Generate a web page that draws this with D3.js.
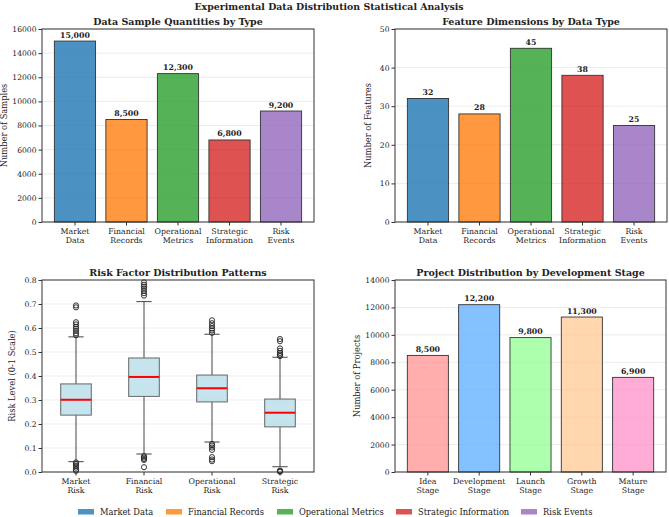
<!DOCTYPE html>
<html>
<head>
<meta charset="utf-8">
<script src="https://cdn.jsdelivr.net/npm/d3@7"></script>
<style>
  body { margin: 0; background: #fff; }
  text { font-family: "DejaVu Serif", serif; fill: #222; }
</style>
</head>
<body>
<script>
// ---------------------- data ----------------------
var dataTypes = ["Market Data", "Financial Records", "Operational Metrics", "Strategic Information", "Risk Events"];
var typeColors = ["#1f77b4", "#ff7f0e", "#2ca02c", "#d62728", "#9467bd"];
var sampleCounts = [15000, 8500, 12300, 6800, 9200];
var featureCounts = [32, 28, 45, 38, 25];

var riskNames = ["Market Risk", "Financial Risk", "Operational Risk", "Strategic Risk"];
var riskQ1 = [0.237, 0.315, 0.292, 0.188];
var riskMedian = [0.301, 0.396, 0.349, 0.247];
var riskQ3 = [0.367, 0.475, 0.404, 0.304];
var riskLow = [0.043, 0.075, 0.125, 0.022];
var riskHigh = [0.563, 0.710, 0.574, 0.478];
var riskOutliers = [
  [0.694, 0.686, 0.624, 0.615, 0.605, 0.597, 0.588, 0.578, 0.570, 0.040, 0.033, 0.026, 0.018, 0.010, 0.005],
  [0.790, 0.780, 0.772, 0.764, 0.755, 0.745, 0.735, 0.066, 0.060, 0.055, 0.050, 0.020],
  [0.632, 0.620, 0.608, 0.598, 0.590, 0.580, 0.117, 0.110, 0.102, 0.092, 0.062, 0.052, 0.045],
  [0.554, 0.545, 0.515, 0.505, 0.496, 0.489, 0.483, 0.006, 0.003, 0.001]
];

var stages = ["Idea Stage", "Development Stage", "Launch Stage", "Growth Stage", "Mature Stage"];
var stageColors = ["#ff9999", "#66b3ff", "#99ff99", "#ffcc99", "#ff99cc"];
var stageCounts = [8500, 12200, 9800, 11300, 6900];

// ---------------------- figure ----------------------
var svg = d3.select("body")
     .append("svg")
     .attr("width", 669)
     .attr("height", 517);

svg.append("text")
     .text("Experimental Data Distribution Statistical Analysis")
     .attr("x", 329)
     .attr("y", 10)
     .attr("text-anchor", "middle")
     .style("font-size", "9.4px")
     .style("font-weight", "bold");

var fmt = d3.format(",");

// draw one panel frame: grid, titles
function panel(box, yScale, yTicks, title, ylabel) {
  var g = svg.append("g");
  g.selectAll(".grid").data(yTicks).enter()
    .append("line")
    .attr("x1", box.x0).attr("x2", box.x1)
    .attr("y1", function(d) { return yScale(d); })
    .attr("y2", function(d) { return yScale(d); })
    .attr("stroke", "#b0b0b0").attr("stroke-opacity", 0.3).attr("stroke-width", 0.8);
  g.append("text").text(title)
    .attr("x", (box.x0 + box.x1) / 2).attr("y", box.y0 - 4)
    .attr("text-anchor", "middle")
    .style("font-size", "9.5px").style("font-weight", "bold");
  g.append("text").text(ylabel)
    .attr("transform", "translate(" + (box.x0 - box.labelOff) + "," + ((box.y0 + box.y1) / 2) + ") rotate(-90)")
    .attr("text-anchor", "middle")
    .style("font-size", "8.3px");
  return g;
}

// axes, ticks and spines
function frame(box, yScale, yTicks, yFormat, xPos, xLabels) {
  var g = svg.append("g");
  var ax = g.append("g").attr("transform", "translate(" + box.x0 + ",0)")
    .call(d3.axisLeft(yScale).tickValues(yTicks).tickFormat(yFormat).tickSize(3.5).tickPadding(2));
  ax.select(".domain").remove();
  ax.selectAll("line").attr("stroke", "#333");
  ax.selectAll("text").style("font-size", "7.6px").style("font-family", "DejaVu Serif").attr("fill", "#222");
  var xt = g.selectAll(".xt").data(xLabels).enter().append("g")
    .attr("transform", function(d, i) { return "translate(" + xPos(i) + "," + box.y1 + ")"; });
  xt.append("line").attr("y2", 3.5).attr("stroke", "#333");
  xt.each(function(d) {
    var words = d.split(" ");
    var t = d3.select(this).append("text").attr("text-anchor", "middle").style("font-size", "7.8px");
    words.forEach(function(w, k) {
      t.append("tspan").attr("x", 0).attr("y", 12 + k * 9).text(w);
    });
  });
  g.append("rect")
    .attr("x", box.x0).attr("y", box.y0)
    .attr("width", box.x1 - box.x0).attr("height", box.y1 - box.y0)
    .attr("fill", "none").attr("stroke", "#333").attr("stroke-width", 1);
}

function barPanel(box, values, colors, labels, yMax, yStep, title, ylabel, valFmt) {
  var x = d3.scaleLinear().domain([-0.64, 4.64]).range([box.x0, box.x1]);
  var y = d3.scaleLinear().domain([0, yMax]).range([box.y1, box.y0]);
  var ticks = d3.range(0, yMax + yStep / 2, yStep);
  var g = panel(box, y, ticks, title, ylabel);
  g.selectAll(".bar").data(values).enter()
    .append("rect")
    .attr("x", function(d, i) { return x(i - 0.4); })
    .attr("width", x(0.4) - x(-0.4))
    .attr("y", function(d) { return y(d); })
    .attr("height", function(d) { return y(0) - y(d); })
    .attr("fill", function(d, i) { return colors[i]; })
    .attr("stroke", "black").attr("stroke-width", 0.9)
    .attr("opacity", 0.8);
  g.selectAll(".val").data(values).enter()
    .append("text")
    .text(valFmt)
    .attr("x", function(d, i) { return x(i); })
    .attr("y", function(d) { return y(d) - 3.5; })
    .attr("text-anchor", "middle")
    .style("font-size", "7.8px").style("font-weight", "bold");
  frame(box, y, ticks, d3.format("d"), function(i) { return x(i); }, labels);
}

// ---------------------- panel 1 & 2 ----------------------
barPanel({x0: 42, x1: 314, y0: 29, y1: 222, labelOff: 35}, sampleCounts, typeColors, dataTypes,
  16000, 2000, "Data Sample Quantities by Type", "Number of Samples", fmt);
barPanel({x0: 395, x1: 667, y0: 29, y1: 222, labelOff: 24}, featureCounts, typeColors, dataTypes,
  50, 10, "Feature Dimensions by Data Type", "Number of Features", fmt);

// ---------------------- panel 3: boxplot ----------------------
(function() {
  var box = {x0: 42, x1: 314, y0: 280, y1: 472, labelOff: 27};
  var x = d3.scaleLinear().domain([0.5, 4.5]).range([box.x0, box.x1]);
  var y = d3.scaleLinear().domain([0, 0.8]).range([box.y1, box.y0]);
  var ticks = d3.range(0, 0.85, 0.1);
  var g = panel(box, y, ticks, "Risk Factor Distribution Patterns", "Risk Level (0-1 Scale)");
  var hw = (x(0.45) - x(0)) / 2;
  riskNames.forEach(function(name, i) {
    var cx = x(i + 1);
    var b = g.append("g");
    b.append("line").attr("x1", cx).attr("x2", cx).attr("y1", y(riskQ3[i])).attr("y2", y(riskHigh[i]))
      .attr("stroke", "#444").attr("stroke-width", 1);
    b.append("line").attr("x1", cx).attr("x2", cx).attr("y1", y(riskQ1[i])).attr("y2", y(riskLow[i]))
      .attr("stroke", "#444").attr("stroke-width", 1);
    [riskHigh[i], riskLow[i]].forEach(function(v) {
      b.append("line").attr("x1", cx - hw / 2).attr("x2", cx + hw / 2).attr("y1", y(v)).attr("y2", y(v))
        .attr("stroke", "#444").attr("stroke-width", 1);
    });
    b.append("rect")
      .attr("x", cx - hw).attr("width", 2 * hw)
      .attr("y", y(riskQ3[i])).attr("height", y(riskQ1[i]) - y(riskQ3[i]))
      .attr("fill", "#add8e6").attr("fill-opacity", 0.7)
      .attr("stroke", "#666").attr("stroke-width", 1);
    b.append("line").attr("x1", cx - hw).attr("x2", cx + hw)
      .attr("y1", y(riskMedian[i])).attr("y2", y(riskMedian[i]))
      .attr("stroke", "red").attr("stroke-width", 2);
    b.selectAll("circle").data(riskOutliers[i]).enter()
      .append("circle")
      .attr("cx", cx).attr("cy", function(d) { return y(d); })
      .attr("r", 2.6)
      .attr("fill", "none").attr("stroke", "#222").attr("stroke-width", 0.9);
  });
  frame(box, y, ticks, d3.format(".1f"), function(i) { return x(i + 1); }, riskNames);
})();

// ---------------------- panel 4 ----------------------
barPanel({x0: 395, x1: 666, y0: 280, y1: 472, labelOff: 35}, stageCounts, stageColors, stages,
  14000, 2000, "Project Distribution by Development Stage", "Number of Projects", fmt);

// ---------------------- legend ----------------------
var legendX = [78, 166, 277, 396, 521];
var lg = svg.selectAll(".lg").data(dataTypes).enter().append("g")
  .attr("transform", function(d, i) { return "translate(" + legendX[i] + ",509)"; });
lg.append("rect").attr("width", 16).attr("height", 5.5)
  .attr("fill", function(d, i) { return typeColors[i]; }).attr("opacity", 0.8);
lg.append("text").text(function(d) { return d; })
  .attr("x", 22).attr("y", 6)
  .style("font-size", "8.3px");
</script>
</body>
</html>
